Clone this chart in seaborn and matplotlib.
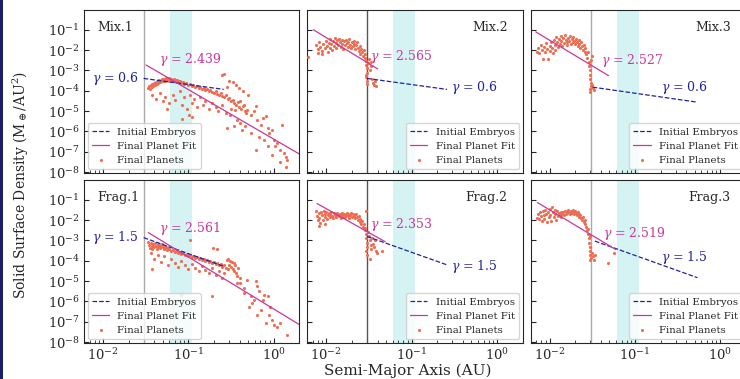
import numpy as np
import pandas as pd
import matplotlib
matplotlib.use("Agg")
import matplotlib.pyplot as plt
import seaborn as sns
from matplotlib.patches import Rectangle

# panel names
panels = ["Mix.1", "Mix.2", "Mix.3", "Frag.1", "Frag.2", "Frag.3"]

# final planets, (log10 a [AU], log10 sigma)
mix1 = [(-1.47, -3.85), (-1.46, -3.75), (-1.45, -3.9), (-1.44, -3.7), (-1.43, -3.8), (-1.42, -3.65),
        (-1.41, -3.75), (-1.40, -3.6), (-1.39, -3.7), (-1.38, -3.55), (-1.37, -3.65), (-1.36, -3.5),
        (-1.35, -3.6), (-1.34, -3.45), (-1.33, -3.55), (-1.32, -3.5), (-1.31, -3.4), (-1.30, -3.5),
        (-1.29, -3.45), (-1.28, -3.4), (-1.27, -3.5), (-1.26, -3.35), (-1.25, -3.45), (-1.24, -3.4),
        (-1.23, -3.5), (-1.22, -3.35), (-1.21, -3.45), (-1.20, -3.4), (-1.19, -3.5), (-1.18, -3.45),
        (-1.17, -3.4), (-1.16, -3.5), (-1.15, -3.45), (-1.14, -3.55), (-1.13, -3.45), (-1.12, -3.5),
        (-1.11, -3.55), (-1.10, -3.5), (-1.08, -3.6), (-1.06, -3.55), (-1.05, -3.65), (-1.03, -3.6),
        (-1.00, -3.7), (-0.98, -3.65), (-0.96, -3.75), (-0.94, -3.7), (-0.92, -3.8), (-0.90, -3.75),
        (-0.88, -3.85), (-0.86, -3.8), (-0.84, -3.9), (-0.82, -3.85), (-0.80, -3.95), (-0.78, -3.9),
        (-0.76, -4.0), (-0.74, -3.95), (-0.72, -4.05), (-0.70, -4.1), (-0.68, -4.0), (-0.66, -4.15),
        (-0.64, -4.2), (-0.62, -4.1), (-0.60, -4.25), (-0.58, -4.3), (-0.56, -4.2), (-0.54, -4.4),
        (-0.52, -4.35), (-0.50, -4.5), (-0.48, -4.45), (-0.46, -4.6), (-0.44, -4.7), (-0.42, -4.55),
        (-0.40, -4.8), (-0.38, -4.9), (-0.36, -4.75), (-0.34, -5.0), (-0.32, -5.1),
        (-1.42, -4.2), (-1.38, -4.4), (-1.33, -4.1), (-1.30, -4.5), (-1.27, -4.3), (-1.22, -4.6),
        (-1.18, -4.2), (-1.15, -4.45), (-1.10, -4.0), (-1.07, -4.7), (-1.05, -4.3), (-1.02, -4.9),
        (-0.98, -4.2), (-0.96, -4.6), (-0.93, -4.4), (-0.90, -4.8), (-0.86, -4.3), (-0.83, -4.7),
        (-0.80, -4.5), (-0.76, -4.9), (-0.72, -4.6), (-0.68, -4.8), (-0.65, -5.0), (-0.60, -4.7),
        (-0.56, -5.1), (-0.50, -4.9), (-1.07, -5.4), (-0.96, -5.3), (-0.99, -5.17), (-1.25, -4.9),
        (-0.60, -3.2), (-0.52, -3.5), (-0.48, -3.55), (-0.44, -3.7), (-0.40, -3.85), (-0.36, -4.0),
        (-0.30, -4.2), (-0.55, -3.8),
        (-0.39, -4.51), (-0.35, -4.68), (-0.31, -4.93), (-0.27, -5.17), (-0.23, -5.01), (-0.21, -4.76),
        (-0.19, -5.42), (-0.15, -5.67), (-0.13, -5.34), (-0.09, -5.26), (-0.07, -5.83), (-0.05, -6.08),
        (-0.02, -5.92), (0.00, -6.41), (0.02, -6.74), (0.04, -6.58), (0.08, -6.9), (0.10, -5.67),
        (0.12, -7.07), (0.14, -7.24), (0.16, -7.4), (0.15, -7.73), (0.08, -7.49), (-0.02, -7.15),
        (-0.07, -6.74), (-0.11, -6.41), (-0.17, -6.25), (-0.21, -6.9), (-0.27, -6.08), (-0.33, -5.75),
        (-0.37, -5.92), (-0.39, -5.58), (-0.43, -5.42), (-0.47, -5.75), (-0.55, -5.83), (-0.51, -5.17),
        (-0.45, -4.93), (-0.58, -3.19)]

mix2 = [(-2.21, -2.35), (-2.12, -1.75), (-2.10, -1.95), (-2.08, -1.6), (-2.07, -1.85), (-2.05, -2.05),
        (-2.04, -1.7), (-2.02, -1.9), (-2.00, -1.55), (-1.99, -1.8), (-1.98, -2.1), (-1.97, -1.65),
        (-1.96, -1.45), (-1.95, -1.9), (-1.94, -1.7), (-1.93, -2.0), (-1.92, -1.55), (-1.91, -1.8),
        (-1.90, -1.4), (-1.89, -1.65), (-1.88, -1.9), (-1.87, -1.5), (-1.86, -1.75), (-1.85, -1.45),
        (-1.84, -1.6), (-1.83, -1.85), (-1.82, -1.5), (-1.81, -1.7), (-1.80, -1.95), (-1.79, -1.55),
        (-1.78, -1.75), (-1.77, -1.5), (-1.76, -1.65), (-1.75, -1.85), (-1.74, -1.6), (-1.73, -1.45),
        (-1.72, -1.75), (-1.71, -1.9), (-1.70, -1.6), (-1.69, -1.8), (-1.68, -1.55), (-1.67, -1.7),
        (-1.66, -1.95), (-1.65, -1.75), (-1.64, -1.6), (-1.63, -1.9), (-1.62, -2.05), (-1.61, -1.8),
        (-1.60, -2.2), (-1.59, -1.95), (-1.58, -2.1), (-1.57, -2.3), (-1.56, -2.0), (-1.55, -2.4),
        (-1.54, -2.2), (-1.53, -2.55), (-1.535, -2.75), (-1.525, -2.9), (-1.52, -3.1), (-1.53, -3.3),
        (-1.52, -3.5), (-1.51, -2.65), (-1.50, -2.45), (-1.49, -3.0), (-1.48, -2.6), (-1.47, -2.8),
        (-1.46, -3.4), (-1.45, -3.6), (-1.44, -3.7), (-1.43, -3.5), (-1.42, -3.75), (-1.53, -3.2),
        (-1.52, -3.65), (-2.10, -2.15), (-2.05, -2.2)]

mix3 = [(-2.15, -2.1), (-2.13, -1.9), (-2.12, -2.15), (-2.10, -1.75), (-2.09, -2.0), (-2.08, -2.45),
        (-2.07, -1.85), (-2.05, -2.1), (-2.04, -1.65), (-2.03, -1.95), (-2.02, -2.45), (-2.00, -1.8),
        (-1.99, -2.05), (-1.98, -1.6), (-1.97, -1.9), (-1.96, -2.15), (-1.95, -1.5), (-1.94, -1.75),
        (-1.93, -2.0), (-1.92, -1.35), (-1.91, -1.6), (-1.90, -1.85), (-1.89, -1.45), (-1.88, -1.7),
        (-1.87, -1.3), (-1.86, -1.55), (-1.85, -1.8), (-1.84, -1.4), (-1.83, -1.65), (-1.82, -1.25),
        (-1.81, -1.5), (-1.80, -1.75), (-1.79, -1.6), (-1.78, -1.4), (-1.77, -1.55), (-1.76, -1.3),
        (-1.75, -1.7), (-1.74, -1.45), (-1.73, -1.6), (-1.72, -1.35), (-1.71, -1.55), (-1.70, -1.7),
        (-1.69, -1.45), (-1.68, -1.6), (-1.67, -1.8), (-1.66, -1.5), (-1.65, -1.7), (-1.64, -1.9),
        (-1.63, -1.6), (-1.62, -1.8), (-1.61, -2.0), (-1.60, -1.75), (-1.59, -2.1), (-1.58, -1.9),
        (-1.57, -2.2), (-1.56, -2.4), (-1.55, -2.1), (-1.54, -2.6), (-1.535, -2.8), (-1.53, -3.0),
        (-1.525, -3.2), (-1.52, -3.4), (-1.515, -3.6), (-1.51, -3.75), (-1.52, -3.9), (-1.53, -4.05),
        (-1.50, -3.7), (-1.49, -3.85), (-1.48, -3.95), (-1.51, -2.5), (-1.50, -2.3)]

frag1 = [(-1.47, -3.05), (-1.46, -3.2), (-1.45, -3.35), (-1.44, -3.1), (-1.43, -3.25), (-1.42, -3.4),
         (-1.41, -3.15), (-1.40, -3.3), (-1.39, -3.1), (-1.38, -3.25), (-1.37, -3.4), (-1.36, -3.15),
         (-1.35, -3.3), (-1.34, -3.2), (-1.33, -3.35), (-1.32, -3.25), (-1.31, -3.15), (-1.30, -3.3),
         (-1.29, -3.4), (-1.28, -3.25), (-1.27, -3.35), (-1.26, -3.3), (-1.25, -3.45), (-1.24, -3.35),
         (-1.22, -3.4), (-1.20, -3.5), (-1.18, -3.45), (-1.16, -3.55), (-1.14, -3.5), (-1.12, -3.6),
         (-1.10, -3.55), (-1.08, -3.65), (-1.06, -3.6), (-1.04, -3.7), (-1.02, -3.65), (-1.00, -3.75),
         (-0.98, -3.7), (-0.96, -3.8), (-0.94, -3.75), (-0.92, -3.85), (-0.90, -3.8), (-0.88, -3.9),
         (-0.86, -3.85), (-0.84, -3.95), (-0.82, -3.9), (-0.80, -4.0), (-0.78, -3.95), (-0.76, -4.05),
         (-0.74, -4.0), (-0.72, -4.1), (-0.70, -4.05), (-0.68, -4.15), (-0.66, -4.1), (-0.64, -4.2),
         (-0.62, -4.15), (-0.60, -4.3), (-0.58, -4.2), (-0.56, -4.35), (-0.54, -4.4),
         (-0.55, -3.95), (-0.53, -3.9), (-0.51, -4.0), (-0.49, -4.05), (-0.47, -4.1), (-0.45, -4.2),
         (-0.52, -4.2), (-0.50, -4.3), (-0.48, -4.4), (-0.46, -4.5), (-0.44, -4.6), (-0.42, -4.35),
         (-1.44, -3.6), (-1.40, -3.9), (-1.36, -3.7), (-1.32, -4.05), (-1.28, -3.75), (-1.24, -4.2),
         (-1.20, -3.9), (-1.16, -4.1), (-1.12, -4.3), (-1.08, -4.0), (-1.04, -4.2), (-1.00, -4.4),
         (-0.96, -4.15), (-0.92, -4.35), (-0.88, -4.5), (-0.84, -4.25), (-0.80, -4.45), (-0.76, -4.6),
         (-0.72, -4.35), (-0.68, -4.7), (-0.64, -4.5), (-0.60, -4.85), (-0.58, -4.6),
         (-0.98, -3.0), (-0.71, -3.35), (-0.66, -3.4), (-1.09, -5.67), (-0.72, -5.75), (-1.42, -4.4),
         (-0.43, -4.76), (-0.39, -5.09), (-0.35, -5.34), (-0.31, -4.93), (-0.27, -5.75), (-0.25, -6.08),
         (-0.21, -5.01), (-0.19, -5.26), (-0.17, -5.5), (-0.15, -6.41), (-0.13, -5.92), (-0.11, -5.67),
         (-0.07, -5.75), (-0.05, -6.66), (-0.04, -6.25), (-0.02, -6.9), (0.00, -7.15), (0.04, -7.24),
         (0.08, -7.07), (0.16, -7.65), (-0.09, -7.07), (-0.19, -6.66), (-0.23, -5.92), (-0.29, -6.25),
         (-0.35, -5.59), (-0.39, -4.84), (-0.43, -5.09)]

frag2 = [(-2.12, -1.55), (-2.11, -1.8), (-2.10, -2.0), (-2.09, -1.65), (-2.08, -1.9), (-2.07, -2.15),
         (-2.06, -1.6), (-2.05, -1.75), (-2.04, -2.0), (-2.03, -1.55), (-2.02, -1.85), (-2.01, -1.7),
         (-2.00, -1.6), (-1.99, -1.95), (-1.98, -1.75), (-1.97, -1.65), (-1.96, -1.85), (-1.95, -1.7),
         (-1.94, -1.6), (-1.93, -1.8), (-1.92, -1.9), (-1.91, -1.65), (-1.90, -1.75), (-1.89, -1.7),
         (-1.88, -1.85), (-1.87, -1.65), (-1.86, -1.75), (-1.85, -1.8), (-1.84, -1.7), (-1.83, -1.9),
         (-1.82, -1.75), (-1.81, -1.65), (-1.80, -1.8), (-1.79, -1.7), (-1.78, -1.85), (-1.77, -1.75),
         (-1.76, -1.65), (-1.75, -1.8), (-1.74, -1.7), (-1.73, -1.9), (-1.72, -1.75), (-1.71, -1.65),
         (-1.70, -1.85), (-1.69, -1.7), (-1.68, -1.8), (-1.67, -1.75), (-1.66, -1.9), (-1.65, -1.7),
         (-1.64, -1.85), (-1.63, -2.0), (-1.62, -1.8), (-1.61, -2.1), (-1.60, -1.95), (-1.59, -2.2),
         (-1.58, -2.05), (-1.57, -2.35), (-1.56, -2.2), (-1.55, -2.5), (-1.54, -2.4), (-1.535, -2.7),
         (-1.53, -2.9), (-1.525, -3.1), (-1.52, -3.3), (-1.53, -3.5), (-1.52, -3.7), (-1.515, -2.6),
         (-1.50, -2.8), (-1.49, -3.0), (-1.48, -3.2), (-1.47, -3.4), (-1.46, -2.9), (-1.45, -3.15),
         (-1.44, -3.3), (-1.42, -3.5), (-1.40, -3.6), (-1.49, -3.9), (-1.43, -3.0), (-1.35, -3.5),
         (-1.53, -1.55), (-2.08, -2.29), (-2.01, -2.2)]

frag3 = [(-2.15, -1.88), (-2.13, -1.7), (-2.12, -1.95), (-2.11, -1.6), (-2.10, -1.8), (-2.09, -2.05),
         (-2.08, -1.55), (-2.07, -1.75), (-2.06, -1.95), (-2.05, -1.5), (-2.04, -1.7), (-2.03, -2.1),
         (-2.02, -1.6), (-2.01, -1.85), (-2.00, -1.45), (-1.99, -1.75), (-1.98, -2.05), (-1.97, -1.35),
         (-1.96, -1.6), (-1.95, -1.85), (-1.94, -1.5), (-1.93, -1.7), (-1.92, -2.0), (-1.91, -1.55),
         (-1.90, -1.8), (-1.89, -1.65), (-1.88, -1.75), (-1.87, -1.6), (-1.86, -1.85), (-1.85, -1.7),
         (-1.84, -1.6), (-1.83, -1.75), (-1.82, -1.55), (-1.81, -1.7), (-1.80, -1.6), (-1.79, -1.65),
         (-1.78, -1.5), (-1.77, -1.6), (-1.76, -1.7), (-1.75, -1.55), (-1.74, -1.65), (-1.73, -1.5),
         (-1.72, -1.6), (-1.71, -1.7), (-1.70, -1.55), (-1.69, -1.65), (-1.68, -1.75), (-1.67, -1.6),
         (-1.66, -1.7), (-1.65, -1.85), (-1.64, -1.75), (-1.63, -1.9), (-1.62, -2.0), (-1.61, -1.85),
         (-1.60, -2.1), (-1.59, -2.0), (-1.58, -2.2), (-1.57, -2.35), (-1.56, -2.5), (-1.55, -2.45),
         (-1.545, -2.7), (-1.54, -2.9), (-1.535, -3.1), (-1.53, -3.3), (-1.525, -3.5), (-1.52, -3.7),
         (-1.51, -3.85), (-1.50, -3.6), (-1.49, -3.75), (-1.48, -3.95), (-1.47, -3.7), (-1.53, -3.95),
         (-1.32, -4.1), (-1.24, -3.62), (-1.52, -2.8)]

planets = [mix1, mix2, mix3, frag1, frag2, frag3]

# initial embryo power law: endpoints in a [AU] and log10 sigma
embryo_a = [(0.030, 0.26), (0.030, 0.26), (0.032, 0.54), (0.030, 0.26), (0.030, 0.26), (0.034, 0.54)]
embryo_logs = [(-3.39, -3.93), (-3.39, -3.93), (-3.82, -4.56), (-2.86, -4.27), (-2.80, -4.20), (-3.03, -4.83)]
embryo_gamma = ["0.6", "0.6", "0.6", "1.5", "1.5", "1.5"]

# fitted power law to final planets
fit_a = [(0.032, 2.0), (0.0071, 0.040), (0.0069, 0.049), (0.034, 2.0), (0.0078, 0.049), (0.0072, 0.060)]
fit_logs = [(-2.73, -7.11), (-1.00, -2.92), (-1.10, -3.25), (-2.61, -7.14), (-1.18, -3.06), (-1.13, -3.45)]
fit_gamma = ["2.439", "2.565", "2.527", "2.561", "2.353", "2.519"]

# where the gamma labels sit (a, sigma)
fit_label_pos = [(0.046, 10**-2.45), (0.033, 10**-2.33), (0.040, 10**-2.5),
                 (0.046, 10**-2.4), (0.033, 10**-2.2), (0.042, 10**-2.67)]
emb_label_pos = [(0.0074, 10**-3.39), (0.29, 10**-3.84), (0.20, 10**-3.85),
                 (0.0074, 10**-2.83), (0.29, 10**-4.27), (0.20, 10**-3.82)]

inner_edge = 0.0303
hz_band = (0.0614, 0.111)

c_pts = "#ee6c50"
c_fit = "#c8379b"
c_emb = "#23239a"

sns.set_style("ticks")
plt.rcParams["font.family"] = ["DejaVu Serif"]
plt.rcParams["mathtext.fontset"] = "dejavuserif"

fig, axes = plt.subplots(2, 3, figsize=(7.4, 3.79), dpi=100, sharex=True, sharey=True)
fig.subplots_adjust(left=0.1135, right=1.008, top=0.9736, bottom=0.095, wspace=0.037, hspace=0.043)

for i, ax in enumerate(axes.flat):
    col = i % 3
    ax.set_xscale("log")
    ax.set_yscale("log")
    ax.axvspan(*hz_band, color="#d6f3f4", lw=0, zorder=0)
    line_col = "#555555" if col == 1 else "#aaaaaa"
    ax.axvline(inner_edge, color=line_col, lw=1.0, zorder=1)

    pts = np.array(planets[i])
    df = pd.DataFrame({"a": 10 ** pts[:, 0], "sigma": 10 ** pts[:, 1]})
    sns.scatterplot(data=df, x="a", y="sigma", ax=ax, s=5, color=c_pts, linewidth=0,
                    label="Final Planets", zorder=3)
    sns.lineplot(x=list(embryo_a[i]), y=list(10 ** np.array(embryo_logs[i])), ax=ax, color=c_emb,
                 lw=0.9, linestyle="--", label="Initial Embryos", estimator=None, zorder=4)
    sns.lineplot(x=list(fit_a[i]), y=list(10 ** np.array(fit_logs[i])), ax=ax, color=c_fit,
                 lw=0.9, label="Final Planet Fit", estimator=None, zorder=4)

    ax.text(*fit_label_pos[i], r"$\gamma$ = " + fit_gamma[i], color=c_fit, fontsize=9,
            ha="left", va="center")
    ax.text(*emb_label_pos[i], r"$\gamma$ = " + embryo_gamma[i], color=c_emb, fontsize=9,
            ha="left", va="center")

    if col == 0:
        ax.text(0.06, 0.895, panels[i], transform=ax.transAxes, fontsize=9, ha="left", va="center")
    else:
        ax.text(0.93, 0.895, panels[i], transform=ax.transAxes, fontsize=9, ha="right", va="center")

    handles, labels = ax.get_legend_handles_labels()
    order = ["Initial Embryos", "Final Planet Fit", "Final Planets"]
    hmap = dict(zip(labels, handles))
    ax.legend([hmap[k] for k in order], order, loc="lower left" if col == 0 else "lower right",
              fontsize=7.3, framealpha=0.8, borderaxespad=0.4, handlelength=1.7)

    ax.set_xlabel("")
    ax.set_ylabel("")
    ax.tick_params(which="both", direction="in", labelsize=9.5, pad=3)
    ax.tick_params(which="major", length=3.5)
    ax.tick_params(which="minor", length=2)

axes[0, 0].set_xlim(0.006, 2.0)
axes[0, 0].set_ylim(9e-9, 0.95)
axes[0, 0].set_yticks([1e-8, 1e-7, 1e-6, 1e-5, 1e-4, 1e-3, 1e-2, 1e-1])

fig.text(0.028, 0.512, r"Solid Surface Density (M$_\oplus$/AU$^2$)", rotation=90,
         ha="center", va="center", fontsize=10)
fig.text(0.551, 0.021, "Semi-Major Axis (AU)", ha="center", va="center", fontsize=11)

fig.add_artist(Rectangle((0, 0), 0.004, 1, transform=fig.transFigure, color="#1c1c6b", lw=0))

fig.savefig("out.png", dpi=100)
